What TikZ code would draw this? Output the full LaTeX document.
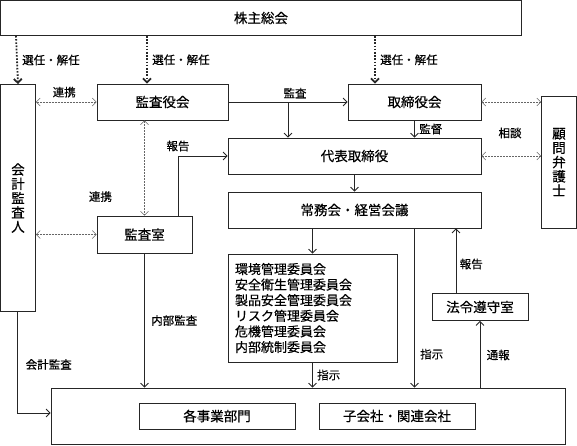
\documentclass[tikz,border=0pt]{standalone}
\usepackage{fontspec}
\setmainfont[FakeBold=0.4]{Noto Sans CJK JP}
\usepackage{tikz, color}
\usetikzlibrary{positioning, arrows.meta, calc}
\tikzset{
  orgchart/.style={
	x=1pt, y=-1pt, % one unit is one pixel of the chart, y runs downwards
	>={Straight Barb[length=4pt,width=8pt]}, % open arrow heads
	line width=0.8pt, draw=black!85,
	every node/.style={font=\fontsize{11.5}{13}\selectfont}, % labels on the lines
  },
  unit/.style={draw=black!85, line width=0.8pt, fill=white, inner sep=0pt,
	font=\fontsize{13.5}{15}\selectfont}, % boxes of the organisation
  tall/.style={unit, align=center, font=\fontsize{13.5}{14.3}\selectfont}, % upright text
  elect/.style={->, line width=1.8pt, dash pattern=on 1.6pt off 1.6pt}, % 選任・解任
  liaison/.style={<->, line width=0.5pt, draw=black!60, dash pattern=on 2pt off 1pt}, % 連携, 相談
  report/.style={->},
}

\begin{document}
\begin{tikzpicture}[orgchart]
\useasboundingbox (0,0) rectangle (577,445);

\node[unit, minimum width=521pt, minimum height=35pt] (soukai) at (261,18) {株主総会};
\node[tall, minimum width=35pt, minimum height=227pt] (kaikei) at (18,198) {会\\計\\監\\査\\人};
\node[unit, minimum width=131pt, minimum height=36pt] (kansayaku) at (162.5,102) {監査役会};
\node[unit, minimum width=133pt, minimum height=36pt] (torishimari) at (414.5,102) {取締役会};
\node[tall, minimum width=35pt, minimum height=132pt] (komon) at (559,162) {顧\\問\\弁\\護\\士};
\node[unit, minimum width=253pt, minimum height=36pt] (daihyo) at (354.5,156) {代表取締役};
\node[unit, minimum width=253pt, minimum height=36pt] (joumu) at (354.5,210) {常務会・経営会議};
\node[unit, minimum width=95pt, minimum height=37pt] (kansashitsu) at (144.5,234.5) {監査室};
\node[unit, text width=155pt, inner xsep=7pt, minimum height=108pt, align=left,
	font=\fontsize{13}{15.6}\selectfont] (iinkai) at (312.5,308)
	{環境管理委員会\\安全衛生管理委員会\\製品安全管理委員会\\リスク管理委員会\\危機管理委員会\\内部統制委員会};
\node[unit, minimum width=96pt, minimum height=27pt] (houreii) at (480,307) {法令遵守室};
\node[unit, minimum width=514pt, minimum height=56pt] (bumon) at (308,416) {};
\node[unit, minimum width=156pt, minimum height=26pt] (jigyo) at (217,416) {各事業部門};
\node[unit, minimum width=156pt, minimum height=26pt] (kogaisha) at (397,416) {子会社・関連会社};

% election by the shareholders
\draw[elect] ([xshift=-245pt]soukai.south) -- node[right, xshift=1pt]{選任・解任} (kaikei.north);
\draw[elect] (soukai.south -| kansayaku.north) ++(-15.5,0) coordinate (s2) -- node[right, xshift=1pt]{選任・解任} (s2 |- kansayaku.north);
\draw[elect] (soukai.south -| torishimari.north) ++(-39.5,0) coordinate (s3) -- node[right, xshift=1pt]{選任・解任} (s3 |- torishimari.north);

% audit and supervision
\coordinate (kansa-br) at (288,102);
\coordinate (hourei-up) at ([xshift=-24pt]houreii.north);
\draw[report] (kansayaku.east) -- node[above, xshift=7pt]{監査} (torishimari.west);
\draw[report] (kansa-br) -- (kansa-br |- daihyo.north);
\draw[report] (torishimari.south) -- node[right, xshift=1pt]{監督} (torishimari.south |- daihyo.north);
\draw[report] (daihyo.south) -- (joumu.north);
\draw[report] (joumu.south -| iinkai.north) -- (iinkai.north);
\draw[report] (joumu.south -| torishimari.south) -- node[right, pos=0.79, xshift=2pt]{指示} (bumon.north -| torishimari.south);
\draw[report] (hourei-up) -- node[right, pos=0.45]{報告} (joumu.south -| hourei-up);
\draw[report] (bumon.north -| houreii.south) -- node[right, pos=0.49, xshift=3pt]{通報} (houreii.south);
\draw[report] (iinkai.south) -- node[right, xshift=1pt]{指示} (bumon.north -| iinkai.south);
\draw[report] (kansashitsu.south) -- node[right, pos=0.5, xshift=3pt]{内部監査} (bumon.north -| kansashitsu.south);
\draw[report] ([xshift=-1pt]kaikei.south) |- node[right, pos=0.26, xshift=5pt]{会計監査} ([yshift=3pt]bumon.west);
\draw[report] ([xshift=33.5pt]kansashitsu.north) |- node[pos=0.5, above, yshift=1pt]{報告} (daihyo.west);

% liaison
\draw[liaison] (kaikei.east |- kansayaku.west) -- node[above, xshift=-2pt, yshift=1pt]{連携} (kansayaku.west);
\draw[liaison] (kaikei.east |- kansashitsu.west) -- (kansashitsu.west);
\draw[liaison] (kansayaku.south -| kansashitsu.north) -- node[left, pos=0.8, xshift=-29pt]{連携} (kansashitsu.north);
\draw[liaison] (torishimari.east) -- (komon.west |- torishimari.east);
\draw[liaison] (daihyo.east) -- (komon.west |- daihyo.east);
\node (soudan) at (510,133) {相談};
\end{tikzpicture}
\end{document}
